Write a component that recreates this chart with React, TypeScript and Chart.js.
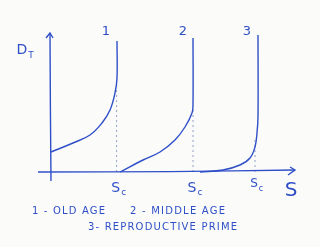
import React, { useEffect, useRef } from 'react';
import { Chart, registerables } from 'chart.js';
Chart.register(...registerables);

// Curve values (S on horizontal axis, D_T on vertical axis)
const curve1S = [0.05, 1.15, 2, 2.6, 3, 3.25, 3.35, 3.35];
const curve1D = [1.0, 1.45, 1.85, 2.45, 3.1, 3.95, 4.7, 6.55];
const curve2S = [3.5, 4.65, 5.5, 6.25, 6.75, 7.1, 7.15, 7.15];
const curve2D = [0, 0.6, 1.0, 1.6, 2.25, 2.95, 3.4, 6.7];
const curve3S = [7.5, 8.65, 9.5, 10, 10.25, 10.35, 10.4, 10.4];
const curve3D = [0, 0.1, 0.35, 0.7, 1.25, 1.95, 2.75, 6.85];

// critical S values (S_c) with the height of their dotted guides
const scValues = [3.33, 7.15, 10.25];
const scGuideTops = [4.35, 3.1, 1.6];

// axes
const yAxisS = [0.05, 0.02, 0];
const yAxisD = [-0.45, 3.2, 6.95];
const xAxisS = [-0.6, 6, 12.25];
const xAxisD = [0, 0.02, 0.1];
const yArrowS = [-0.2, 0, 0.15];
const yArrowD = [6.7, 6.95, 6.7];
const xArrowS = [12.0, 12.25, 11.9];
const xArrowD = [0.25, 0.1, -0.15];

// text
const curveLabels = ['1', '2', '3'];
const curveLabelS = [2.8, 6.65, 9.85];
const curveLabelD = 7.0;
const legendRow1 = ['1 - OLD AGE', '2 - MIDDLE AGE'];
const legendRow2 = ['3- REPRODUCTIVE PRIME'];

const BLUE = '#2f4fc9';
const pts = (s: number[], d: number[]) => s.map((v, i) => ({ x: v, y: d[i] }));

export default function App() {
  const ref = useRef<HTMLCanvasElement | null>(null);
  useEffect(() => {
    if (!ref.current) return;
    const line = (data: any[], extra: any = {}) => ({
      data,
      borderColor: BLUE,
      borderWidth: 1.4,
      pointRadius: 0,
      tension: 0.4,
      fill: false,
      showLine: true,
      ...extra,
    });
    const datasets: any[] = [
      line(pts(curve1S, curve1D)),
      line(pts(curve2S, curve2D)),
      line(pts(curve3S, curve3D)),
      line(pts(yAxisS, yAxisD), { tension: 0.2 }),
      line(pts(xAxisS, xAxisD), { tension: 0.2 }),
      line(pts(yArrowS, yArrowD), { tension: 0 }),
      line(pts(xArrowS, xArrowD), { tension: 0 }),
      ...scValues.map((s, i) =>
        line(pts([s, s], [0, scGuideTops[i]]), {
          borderColor: 'rgba(80,100,170,0.6)',
          borderWidth: 1,
          borderDash: [2, 3],
          tension: 0,
        })
      ),
    ];

    const bg = {
      id: 'bg',
      beforeDraw(c: any) {
        const ctx = c.ctx;
        ctx.save();
        ctx.fillStyle = '#fbfbf9';
        ctx.fillRect(0, 0, c.width, c.height);
        ctx.restore();
      },
    };

    const text = {
      id: 'texts',
      afterDatasetsDraw(c: any) {
        const ctx = c.ctx;
        const xs = c.scales.x;
        const ys = c.scales.y;
        const X = (v: number) => xs.getPixelForValue(v);
        const Y = (v: number) => ys.getPixelForValue(v);
        ctx.save();
        ctx.fillStyle = BLUE;
        ctx.textBaseline = 'middle';
        ctx.textAlign = 'center';
        ctx.font = '13px "DejaVu Sans"';
        curveLabels.forEach((t, i) => ctx.fillText(t, X(curveLabelS[i]), Y(curveLabelD)));
        // D_T
        ctx.font = '14px "DejaVu Sans"';
        ctx.fillText('D', X(-1.4), Y(6.1));
        ctx.font = '9px "DejaVu Sans"';
        ctx.fillText('T', X(-0.95), Y(5.8));
        // S_c labels
        scValues.forEach((s, i) => {
          const small = i === 2;
          ctx.font = (small ? '12px' : '14px') + ' "DejaVu Sans"';
          ctx.fillText('S', X(s - 0.05), Y(small ? -0.6 : -0.8));
          ctx.font = (small ? '8px' : '9px') + ' "DejaVu Sans"';
          ctx.fillText('c', X(s + (small ? 0.3 : 0.35)), Y(small ? -0.85 : -1.05));
        });
        // S axis label
        ctx.font = '20px "DejaVu Sans"';
        ctx.fillText('S', X(12.05), Y(-0.95));
        // legend
        ctx.textAlign = 'left';
        ctx.font = '10px "DejaVu Sans"';
        const fit = (t: string, x0: number, x1: number, y: number) => {
          ctx.letterSpacing = '0px';
          const w = ctx.measureText(t).width;
          const sp = (X(x1) - X(x0) - w) / Math.max(1, t.length - 1);
          ctx.letterSpacing = sp + 'px';
          ctx.fillText(t, X(x0), Y(y));
        };
        fit(legendRow1[0], -0.9, 2.75, -1.95);
        fit(legendRow1[1], 4.0, 8.75, -1.95);
        fit(legendRow2[0], 1.9, 9.35, -2.75);
        ctx.restore();
      },
    };

    const chart = new Chart(ref.current, {
      type: 'scatter',
      data: { datasets },
      options: {
        animation: false,
        responsive: false,
        layout: { padding: 0 },
        plugins: { legend: { display: false }, tooltip: { enabled: false } },
        scales: {
          x: { type: 'linear', min: -2.5, max: 13.5, display: false },
          y: { type: 'linear', min: -3.75, max: 8.6, display: false },
        },
      },
      plugins: [bg, text],
    });
    return () => chart.destroy();
  }, []);
  return (
    <div style={{ position: 'absolute', left: 0, top: 0, width: 320, height: 247 }}>
      <canvas ref={ref} width={320} height={247} />
    </div>
  );
}
